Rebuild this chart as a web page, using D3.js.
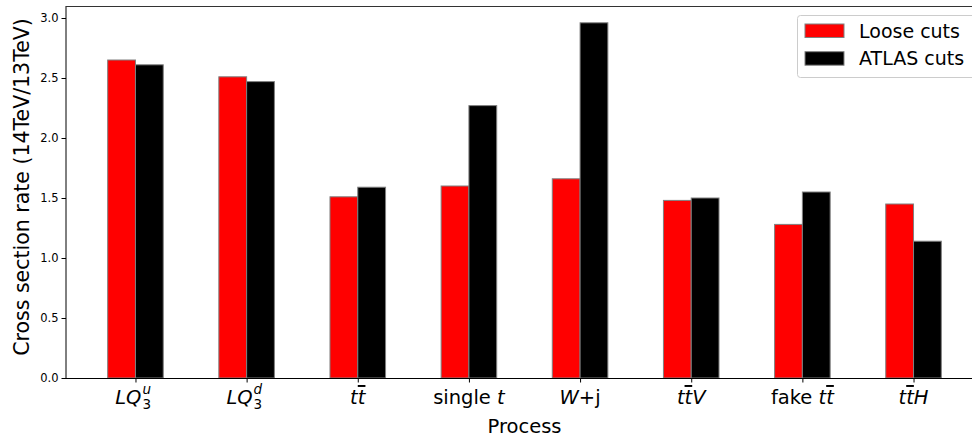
<!DOCTYPE html>
<html>
<head>
<meta charset="utf-8">
<script src="https://cdn.jsdelivr.net/npm/d3@7"></script>
<style>
  html, body { margin: 0; padding: 0; background: #fff; }
  svg { display: block; font-family: "DejaVu Sans", sans-serif; }
</style>
</head>
<body>
<svg id="chart" width="972" height="439"></svg>
<script>
// ---- data ----
const categories = ["LQu", "LQd", "tt", "single t", "W+j", "ttV", "fake tt", "ttH"];
const looseCuts = [2.65, 2.51, 1.51, 1.60, 1.66, 1.48, 1.28, 1.45];
const atlasCuts = [2.61, 2.47, 1.59, 2.27, 2.96, 1.50, 1.55, 1.14];
const yTicks = [0.0, 0.5, 1.0, 1.5, 2.0, 2.5, 3.0];
const seriesNames = ["Loose cuts", "ATLAS cuts"];
const seriesColors = ["#ff0000", "#000000"];

// ---- layout ----
const svg = d3.select("#chart");
const margin = { left: 66, top: 6, right: 983, bottom: 378 };

const x = d3.scaleLinear().domain([-0.625, categories.length - 1 + 0.625]).range([margin.left, margin.right]);
const y = d3.scaleLinear().domain([0, 3.1]).range([margin.bottom, margin.top]);
const barW = 0.25;

// bars
const series = [looseCuts, atlasCuts];
series.forEach((vals, si) => {
  const off = si === 0 ? -barW : 0;
  svg.append("g").selectAll("rect").data(vals).join("rect")
    .attr("x", (d, i) => x(i + off))
    .attr("width", x(barW) - x(0))
    .attr("y", d => y(d))
    .attr("height", d => y(0) - y(d))
    .attr("fill", seriesColors[si])
    .attr("stroke", "#808080")
    .attr("stroke-width", 1);
});

// spines
svg.append("line").attr("x1", margin.left).attr("x2", margin.left).attr("y1", margin.top).attr("y2", margin.bottom)
  .attr("stroke", "#000").attr("stroke-width", 1);
svg.append("line").attr("x1", margin.left).attr("x2", margin.right).attr("y1", margin.top + 0.5).attr("y2", margin.top + 0.5)
  .attr("stroke", "#333").attr("stroke-width", 1.2);

// y axis
const yAxis = d3.axisLeft(y).tickValues(yTicks).tickFormat(d3.format(".1f")).tickSize(4.5).tickPadding(3);
const gy = svg.append("g").attr("transform", `translate(${margin.left},0)`).call(yAxis);
gy.select(".domain").remove();
gy.selectAll("text").attr("font-size", 11.5).attr("fill", "#000").attr("font-family", "DejaVu Sans");

// x axis
const xAxis = d3.axisBottom(x).tickValues(d3.range(categories.length)).tickFormat("").tickSize(4.5);
const gx = svg.append("g").attr("transform", `translate(0,${margin.bottom})`).call(xAxis);
gx.select(".domain").attr("d", `M${margin.left},0.5H${margin.right}`).attr("stroke", "#000");

// x tick labels with math-ish formatting
const labelY = margin.bottom + 26;
const fs = 19.5;
function tbarLabel(g, parts) {
  const text = g.append("text").attr("text-anchor", "middle").attr("font-size", fs).attr("fill", "#000");
  parts.forEach(p => {
    const ts = text.append("tspan").text(p.t);
    if (p.italic) ts.attr("font-style", "italic");
    if (p.bar) ts.attr("text-decoration", "overline");
  });
  return text;
}
categories.forEach((c, i) => {
  const g = svg.append("g").attr("transform", `translate(${x(i)},${labelY})`);
  if (c === "LQu" || c === "LQd") {
    g.append("text").attr("x", 6).attr("text-anchor", "end").attr("font-size", fs).attr("font-style", "italic")
      .attr("fill", "#000").text("LQ");
    g.append("text").attr("x", 7).attr("y", 5).attr("font-size", 13.5).attr("fill", "#000").text("3");
    g.append("text").attr("x", 7).attr("y", -10.5).attr("font-size", 13.5).attr("font-style", "italic")
      .attr("fill", "#000").text(c === "LQu" ? "u" : "d");
  } else if (c === "tt") {
    tbarLabel(g, [{ t: "t", italic: true }, { t: "t", italic: true, bar: true }]);
  } else if (c === "single t") {
    tbarLabel(g, [{ t: "single " }, { t: "t", italic: true }]);
  } else if (c === "W+j") {
    tbarLabel(g, [{ t: "W", italic: true }, { t: "+j" }]);
  } else if (c === "ttV") {
    tbarLabel(g, [{ t: "t", italic: true }, { t: "t", italic: true, bar: true }, { t: "V", italic: true }]);
  } else if (c === "fake tt") {
    tbarLabel(g, [{ t: "fake " }, { t: "t", italic: true }, { t: "t", italic: true, bar: true }]);
  } else if (c === "ttH") {
    tbarLabel(g, [{ t: "t", italic: true }, { t: "t", italic: true, bar: true }, { t: "H", italic: true }]);
  }
});

// axis titles
svg.append("text").attr("x", (margin.left + margin.right) / 2).attr("y", 433)
  .attr("text-anchor", "middle").attr("font-size", 19.5).attr("fill", "#000").text("Process");
svg.append("text").attr("transform", `translate(29,187) rotate(-90)`)
  .attr("text-anchor", "middle").attr("font-size", 20.5).attr("fill", "#000").text("Cross section rate (14TeV/13TeV)");

// legend
const lg = svg.append("g");
lg.append("rect").attr("x", 797.5).attr("y", 15.5).attr("width", 185).attr("height", 62).attr("rx", 3)
  .attr("fill", "#fff").attr("fill-opacity", 0.8).attr("stroke", "#ccc").attr("stroke-width", 1);
seriesNames.forEach((n, i) => {
  const yy = 24 + i * 27.7;
  lg.append("rect").attr("x", 805).attr("y", yy).attr("width", 39).attr("height", 13.5)
    .attr("fill", seriesColors[i]).attr("stroke", "#808080").attr("stroke-width", 1);
  lg.append("text").attr("x", 859).attr("y", yy + 13.5).attr("font-size", 19).attr("fill", "#000").text(n);
});
</script>
</body>
</html>
